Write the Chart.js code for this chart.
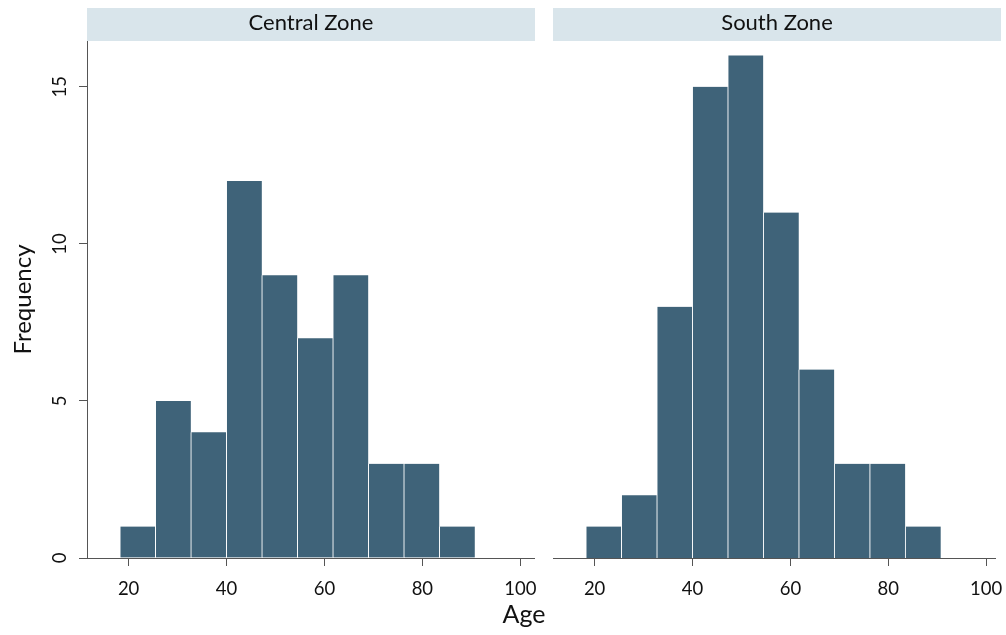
<!DOCTYPE html>
<html><head><meta charset="utf-8">
<script src="https://cdn.jsdelivr.net/npm/chart.js@4.4.1/dist/chart.umd.min.js"></script>
<style>
body{margin:0;background:#fff;width:1006px;height:635px;overflow:hidden;position:relative;font-family:Lato,sans-serif}
canvas{position:absolute;top:0}
#age{position:absolute;left:524px;top:598px;transform:translateX(-50%);font:25px Lato,sans-serif;color:#111;line-height:30px}
</style></head><body>
<canvas id="c1" width="540" height="635" style="left:0px"></canvas>
<canvas id="c2" width="466" height="635" style="left:540px"></canvas>
<div id="age">Age</div>
<script>
const panelTitles = ['Central Zone', 'South Zone'];
const binCenters = [21.83, 29.08, 36.33, 43.58, 50.83, 58.08, 65.33, 72.58, 79.83, 87.08];
const centralFreq = [1, 5, 4, 12, 9, 7, 9, 3, 3, 1];
const southFreq = [1, 2, 8, 15, 16, 11, 6, 3, 3, 1];
const xTickValues = [20, 40, 60, 80, 100];
const yTickValues = [0, 5, 10, 15];
const yTitle = 'Frequency';

const BAR = '#3f6379', STRIP = '#d9e5eb', AXIS = '#555';
const FONT = 'Lato, sans-serif';

const stripPlugin = {
  id: 'strip',
  beforeDraw(chart, args, opts) {
    const {ctx, chartArea: a} = chart;
    ctx.save();
    const x0 = a.left, x1 = a.right + (opts.extra || 0);
    ctx.fillStyle = STRIP;
    ctx.fillRect(x0, 8, x1 - x0, 33);
    ctx.fillStyle = '#111';
    ctx.font = '22px ' + FONT;
    ctx.textAlign = 'center';
    ctx.textBaseline = 'middle';
    ctx.fillText(opts.text, (x0 + x1) / 2, 23);
    ctx.restore();
  }
};

function makeChart(id, freq, title, showY, xMax, pad, extra) {
  return new Chart(document.getElementById(id), {
    type: 'bar',
    data: {
      datasets: [{
        data: binCenters.map((x, i) => ({x: x, y: freq[i]})),
        backgroundColor: BAR,
        borderColor: '#fff',
        borderWidth: {left: 1, right: 0, top: 0, bottom: 0},
        barPercentage: 1,
        categoryPercentage: 1
      }]
    },
    options: {
      responsive: false,
      animation: false,
      devicePixelRatio: 1,
      layout: {padding: pad},
      plugins: {legend: {display: false}, tooltip: {enabled: false}, strip: {text: title, extra: extra}},
      scales: {
        x: {
          type: 'linear', offset: false, min: 11.5, max: xMax,
          afterBuildTicks: s => { s.ticks = xTickValues.map(v => ({value: v})); },
          afterFit: s => { s.height = 77; s.paddingLeft = 0; s.paddingRight = 0; },
          grid: {offset: false, drawOnChartArea: false, drawTicks: true, tickLength: 8, color: AXIS},
          border: {display: true, color: AXIS, width: 1},
          ticks: {color: '#111', font: {family: FONT, size: 18.5}, padding: 12, maxRotation: 0, autoSkip: false}
        },
        y: {
          display: showY, min: 0, max: 16.46,
          afterBuildTicks: s => { s.ticks = yTickValues.map(v => ({value: v})); },
          afterFit: s => { s.width = showY ? 87 : 0; },
          grid: {drawOnChartArea: false, drawTicks: true, tickLength: 8, color: AXIS},
          border: {display: true, color: AXIS, width: 1},
          ticks: {color: '#111', font: {family: FONT, size: 18.5}, padding: 8, minRotation: 90, maxRotation: 90, crossAlign: 'center'},
          title: {display: true, text: yTitle, color: '#111', font: {family: FONT, size: 24}, padding: {top: 9, bottom: 0}}
        }
      }
    },
    plugins: [stripPlugin]
  });
}

makeChart('c1', centralFreq, panelTitles[0], true, 102.8, {top: 41, left: 0, right: 6, bottom: 0}, 1);
makeChart('c2', southFreq, panelTitles[1], false, 101.8, {top: 41, left: 13, right: 11, bottom: 0}, 6);
</script>
</body></html>
